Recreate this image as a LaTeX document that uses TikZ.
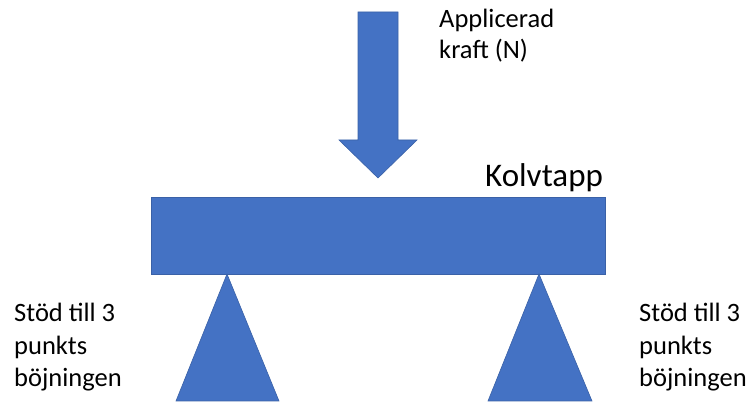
\documentclass[tikz,border=0pt]{standalone}
\usepackage{fontspec}
\setmainfont{Carlito}
\usetikzlibrary{positioning}
\definecolor{offblue}{HTML}{4472C4}
\tikzset{
  part/.style={fill=offblue,draw=offblue!85!black,line width=0.6pt},
  lbl/.style={anchor=base west,inner sep=0pt,align=left,font=\fontsize{26.5}{32.5}\selectfont},
}
\begin{document}
\begin{tikzpicture}[x=1pt,y=-1pt]
 \useasboundingbox (0,0) rectangle (753,403);
 \draw[part](358,12)--(398,12)--(398,140)--(417,140)--(378,178)--(339,140)--(358,140)--cycle;
 \draw[part](151,197) rectangle (605,274);
 \draw[part](227,274)--(279,401)--(176,401)--cycle;
 \draw[part](539,274)--(592,401)--(488,401)--cycle;
 \node[lbl,font=\fontsize{26.5}{31}\selectfont] (kraft) at (439,59) {Applicerad\\kraft (N)};
 \node[lbl,font=\fontsize{33}{40}\selectfont] (kolvtapp) at (485,187) {Kolvtapp};
 \node[lbl] (stodv) at (14,387) {Stöd till 3\\punkts\\böjningen};
 \node[lbl] (stodh) at (639,387) {Stöd till 3\\punkts\\böjningen};
\end{tikzpicture}
\end{document}
